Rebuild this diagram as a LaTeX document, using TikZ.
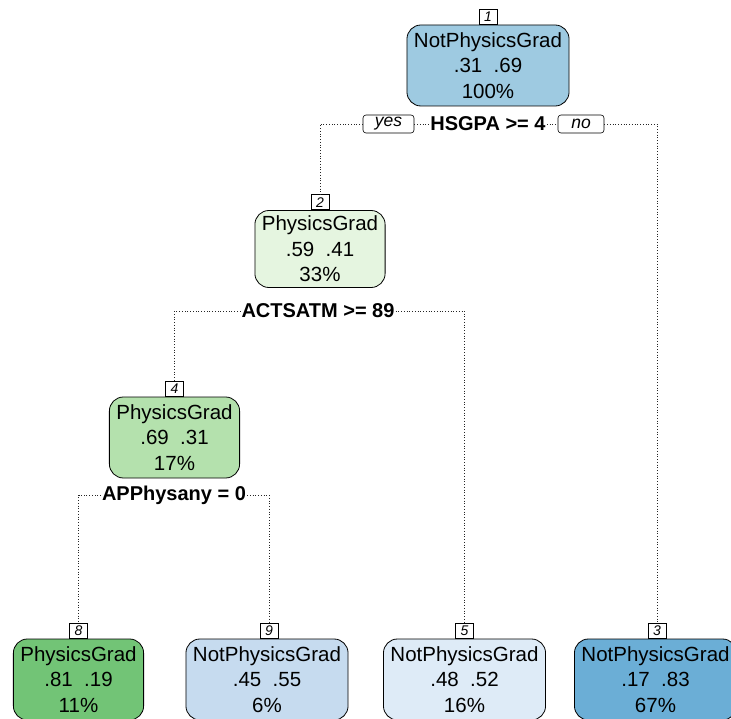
\documentclass[tikz,border=0pt]{standalone}
\usepackage{fontspec}
\setmainfont{Liberation Sans}
\definecolor{blueA}{HTML}{9ECAE1}
\definecolor{blueB}{HTML}{6BAED6}
\definecolor{blueC}{HTML}{C6DBEF}
\definecolor{blueD}{HTML}{DEEBF7}
\definecolor{greenA}{HTML}{E5F5E0}
\definecolor{greenB}{HTML}{B4E1AD}
\definecolor{greenC}{HTML}{72C476}
\begin{document}
\begin{tikzpicture}[x=1pt,y=-1pt,
  tn/.style={draw=black, line width=0.8pt, rounded corners=14pt, align=center,
    inner xsep=7pt, inner ysep=0pt, minimum height=81pt,
    font=\fontsize{20.5}{25.5}\selectfont},
  numbox/.style={draw=black, line width=0.6pt, fill=white, inner sep=0pt,
    minimum width=18pt, minimum height=15pt, anchor=south,
    font=\fontsize{14}{14}\selectfont\itshape},
  splitlab/.style={fill=white, inner sep=1pt,
    font=\fontsize{20}{20}\selectfont\bfseries},
  yn/.style={draw=black, line width=0.6pt, fill=white, rounded corners=3pt,
    inner sep=0pt, minimum height=18pt,
    font=\fontsize{17.5}{17.5}\selectfont\itshape},
  dotline/.style={line width=0.75pt, dash pattern=on 0.75pt off 2pt, black!85}]
\useasboundingbox (0,0) rectangle (731,719);

% tree nodes
\node[tn, fill=blueA] (n1) at (488,65.5) {NotPhysicsGrad\\.31\ \ .69\\100\%};
\node[tn, fill=greenA, minimum height=77pt] (n2) at (320,249) {PhysicsGrad\\.59\ \ .41\\33\%};
\node[tn, fill=greenB] (n4) at (174.5,437.5) {PhysicsGrad\\.69\ \ .31\\17\%};
\node[tn, fill=greenC] (n8) at (78.5,679.5) {PhysicsGrad\\.81\ \ .19\\11\%};
\node[tn, fill=blueC] (n9) at (267,679.5) {NotPhysicsGrad\\.45\ \ .55\\6\%};
\node[tn, fill=blueD] (n5) at (464.5,679.5) {NotPhysicsGrad\\.48\ \ .52\\16\%};
\node[tn, fill=blueB] (n3) at (655.5,679.5) {NotPhysicsGrad\\.17\ \ .83\\67\%};

% node numbers
\node[numbox] (k1) at (n1.north) {1};
\node[numbox] (k2) at (n2.north) {2};
\node[numbox] (k4) at (n4.north) {4};
\node[numbox] (k8) at (n8.north) {8};
\node[numbox] (k9) at ([xshift=2pt]n9.north) {9};
\node[numbox] (k5) at (n5.north) {5};
\node[numbox] (k3) at ([xshift=1.5pt]n3.north) {3};

% split labels
\node[splitlab] (s1) at (488,124) {HSGPA >= 4};
\node[yn, minimum width=51pt] (yes) at (388.5,124) {yes};
\node[yn, minimum width=46pt] (no) at (581,124) {no};
\node[splitlab] (s2) at (318,311) {ACTSATM >= 89};
\node[splitlab] (s4) at (174,495) {APPhysany = 0};

% connectors
\draw[dotline] (yes.west) -| (k2.north);
\draw[dotline] (yes.east) -- (s1.west);
\draw[dotline] (s1.east) -- (no.west);
\draw[dotline] (no.east) -| (k3.north);
\draw[dotline] (s2.west) -| (k4.north);
\draw[dotline] (s2.east) -| (k5.north);
\draw[dotline] (s4.west) -| (k8.north);
\draw[dotline] (s4.east) -| (k9.north);
\end{tikzpicture}
\end{document}
